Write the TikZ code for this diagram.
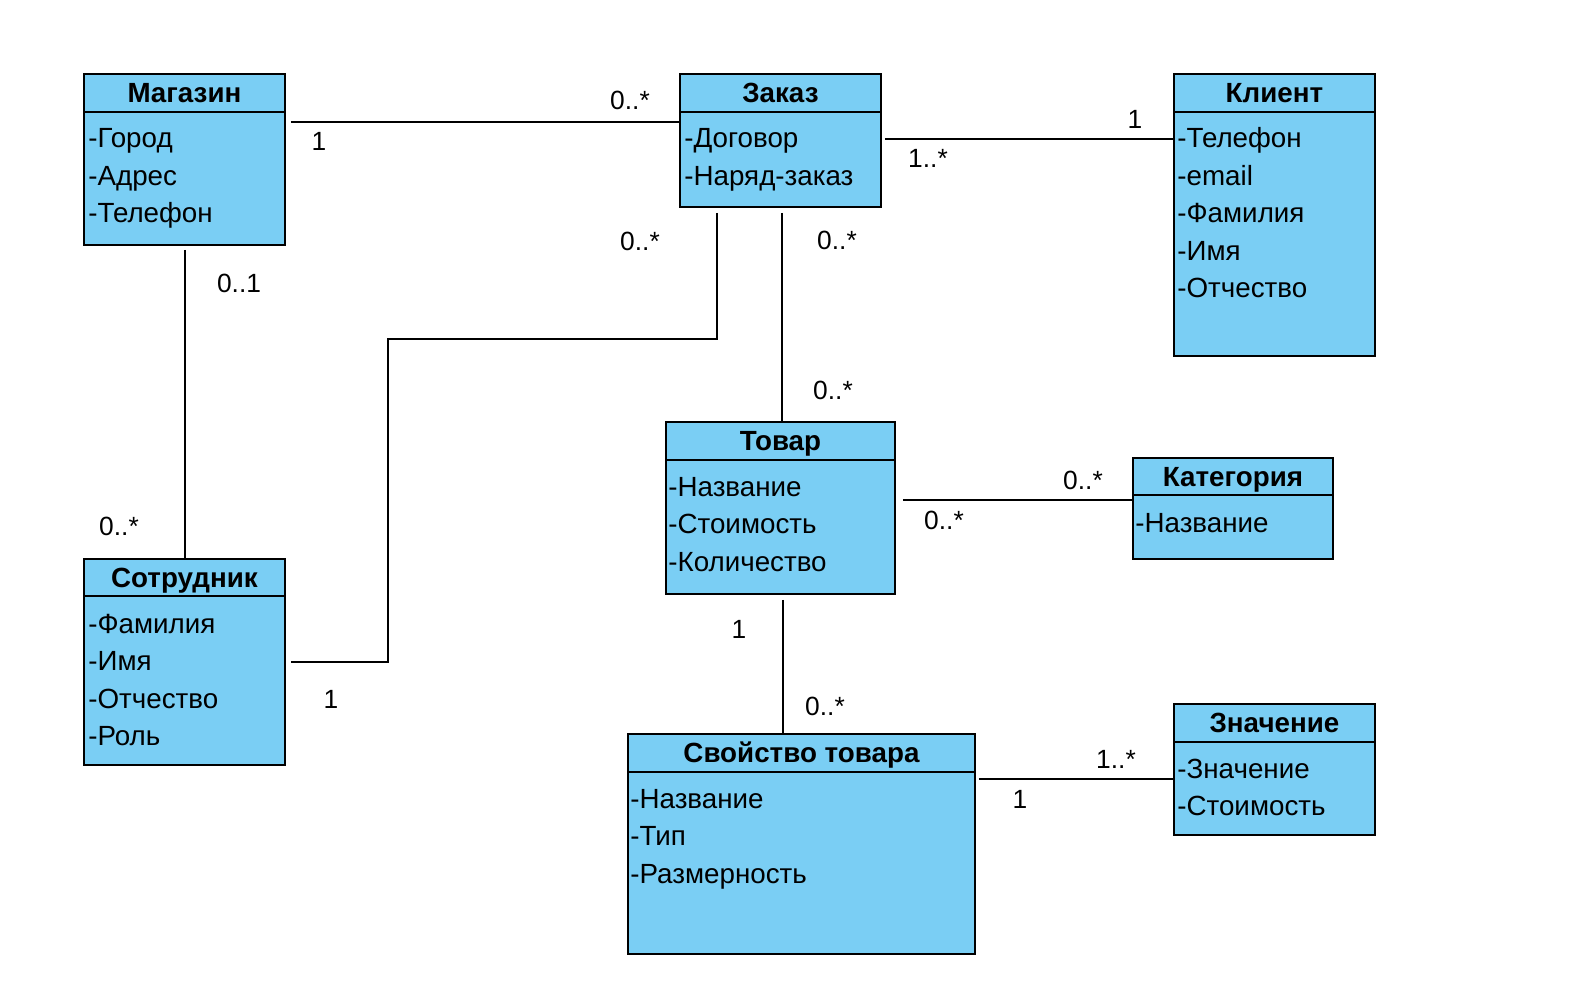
\documentclass[tikz,border=0pt]{standalone}
\usepackage{fontspec}
\setmainfont{Liberation Sans}
\definecolor{klassblue}{HTML}{7ACEF4}
\tikzset{
  klass/.style={draw=black, fill=klassblue, line width=1.1pt, anchor=north west, inner sep=0pt},
  titel/.style={font=\fontsize{15.8}{19}\selectfont\bfseries, anchor=base, inner sep=0pt},
  attr/.style={font=\fontsize{15.8}{19}\selectfont, anchor=base west, inner sep=0pt},
  mult/.style={font=\fontsize{15}{18}\selectfont, inner sep=0pt},
  link/.style={line width=1.1pt, draw=black}
}
\begin{document}
\begin{tikzpicture}[x=0.02cm, y=-0.02cm]
    \useasboundingbox (0,0) rectangle (1573,1000);

    % Магазин
    \node[klass, minimum width=4.02cm, minimum height=3.42cm] (mag) at (83,73) {};
    \draw[line width=1.1pt] ([yshift=-0.78cm]mag.north west) -- ([yshift=-0.78cm]mag.north east);
    \node[titel] (mag-t) at ([yshift=-0.59cm]mag.north) {Магазин};
    \foreach \a [count=\i] in {Город, Адрес, Телефон}
        \node[attr] (mag-\i) at ([shift={(5,37.5+37.5*\i)}]mag.north west) {-\a};

    % Заказ
    \node[klass, minimum width=4.02cm, minimum height=2.66cm] (zak) at (679,73) {};
    \draw[line width=1.1pt] ([yshift=-0.78cm]zak.north west) -- ([yshift=-0.78cm]zak.north east);
    \node[titel] (zak-t) at ([yshift=-0.59cm]zak.north) {Заказ};
    \foreach \a [count=\i] in {Договор, Наряд-заказ}
        \node[attr] (zak-\i) at ([shift={(5,37.5+37.5*\i)}]zak.north west) {-\a};

    % Клиент
    \node[klass, minimum width=4.02cm, minimum height=5.64cm] (kli) at (1173,73) {};
    \draw[line width=1.1pt] ([yshift=-0.78cm]kli.north west) -- ([yshift=-0.78cm]kli.north east);
    \node[titel] (kli-t) at ([yshift=-0.59cm]kli.north) {Клиент};
    \foreach \a [count=\i] in {Телефон, email, Фамилия, Имя, Отчество}
        \node[attr] (kli-\i) at ([shift={(4,37.5+37.5*\i)}]kli.north west) {-\a};

    % Товар
    \node[klass, minimum width=4.58cm, minimum height=3.44cm] (tov) at (665,421) {};
    \draw[line width=1.1pt] ([yshift=-0.78cm]tov.north west) -- ([yshift=-0.78cm]tov.north east);
    \node[titel] (tov-t) at ([yshift=-0.59cm]tov.north) {Товар};
    \foreach \a [count=\i] in {Название, Стоимость, Количество}
        \node[attr] (tov-\i) at ([shift={(3,37.5+37.5*\i)}]tov.north west) {-\a};

    % Категория
    \node[klass, minimum width=4.00cm, minimum height=2.02cm] (kat) at (1132,457) {};
    \draw[line width=1.1pt] ([yshift=-0.76cm]kat.north west) -- ([yshift=-0.76cm]kat.north east);
    \node[titel] (kat-t) at ([yshift=-0.59cm]kat.north) {Категория};
    \foreach \a [count=\i] in {Название}
        \node[attr] (kat-\i) at ([shift={(3,37.5+37.5*\i)}]kat.north west) {-\a};

    % Сотрудник
    \node[klass, minimum width=4.02cm, minimum height=4.12cm] (sot) at (83,558) {};
    \draw[line width=1.1pt] ([yshift=-0.76cm]sot.north west) -- ([yshift=-0.76cm]sot.north east);
    \node[titel] (sot-t) at ([yshift=-0.59cm]sot.north) {Сотрудник};
    \foreach \a [count=\i] in {Фамилия, Имя, Отчество, Роль}
        \node[attr] (sot-\i) at ([shift={(5,37.5+37.5*\i)}]sot.north west) {-\a};

    % Значение
    \node[klass, minimum width=4.02cm, minimum height=2.62cm] (zna) at (1173,703) {};
    \draw[line width=1.1pt] ([yshift=-0.78cm]zna.north west) -- ([yshift=-0.78cm]zna.north east);
    \node[titel] (zna-t) at ([yshift=-0.59cm]zna.north) {Значение};
    \foreach \a [count=\i] in {Значение, Стоимость}
        \node[attr] (zna-\i) at ([shift={(4,37.5+37.5*\i)}]zna.north west) {-\a};

    % Свойство товара
    \node[klass, minimum width=6.94cm, minimum height=4.40cm] (svo) at (627,733) {};
    \draw[line width=1.1pt] ([yshift=-0.78cm]svo.north west) -- ([yshift=-0.78cm]svo.north east);
    \node[titel] (svo-t) at ([yshift=-0.59cm]svo.north) {Свойство товара};
    \foreach \a [count=\i] in {Название, Тип, Размерность}
        \node[attr] (svo-\i) at ([shift={(3,37.5+37.5*\i)}]svo.north west) {-\a};

    % Связи
    \coordinate (c-mz) at ([shift={(5,49)}]mag.north east);
    \draw[link] (c-mz) -- (c-mz -| zak.west);
    \coordinate (c-zk) at ([shift={(3,66)}]zak.north east);
    \draw[link] (c-zk) -- (c-zk -| kli.west);
    \coordinate (c-ms) at ([shift={(1,4)}]mag.south);
    \draw[link] (c-ms) -- (c-ms |- sot.north);
    \coordinate (c-zs) at ([shift={(38,5)}]zak.south west);
    \coordinate (bend) at (388,339);
    \coordinate (c-sz) at ([shift={(5,104)}]sot.north east);
    \draw[link] (c-zs) |- (bend) |- (c-sz);
    \coordinate (c-zt) at ([shift={(1.5,5)}]zak.south);
    \draw[link] (c-zt) -- (c-zt |- tov.north);
    \coordinate (c-tk) at ([shift={(7,79)}]tov.north east);
    \draw[link] (c-tk) -- (c-tk -| kat.west);
    \coordinate (c-ts) at ([shift={(3,5)}]tov.south);
    \draw[link] (c-ts) -- (c-ts |- svo.north);
    \coordinate (c-sv) at ([shift={(3,46)}]svo.north east);
    \draw[link] (c-sv) -- (c-sv -| zna.west);

    % Кратности
    \node[mult] (m1) at (319,141) {1};
    \node[mult] (m2) at (630,100) {0..*};
    \node[mult] (m3) at (928,158) {1..*};
    \node[mult] (m4) at (1135,119) {1};
    \node[mult] (m5) at (239,283) {0..1};
    \node[mult] (m6) at (119,526) {0..*};
    \node[mult] (m7) at (640,241) {0..*};
    \node[mult] (m8) at (331,699) {1};
    \node[mult] (m9) at (837,240) {0..*};
    \node[mult] (m10) at (833,390) {0..*};
    \node[mult] (m11) at (944,520) {0..*};
    \node[mult] (m12) at (1083,480) {0..*};
    \node[mult] (m13) at (739,629) {1};
    \node[mult] (m14) at (825,706) {0..*};
    \node[mult] (m15) at (1020,799) {1};
    \node[mult] (m16) at (1116,759) {1..*};
\end{tikzpicture}
\end{document}
